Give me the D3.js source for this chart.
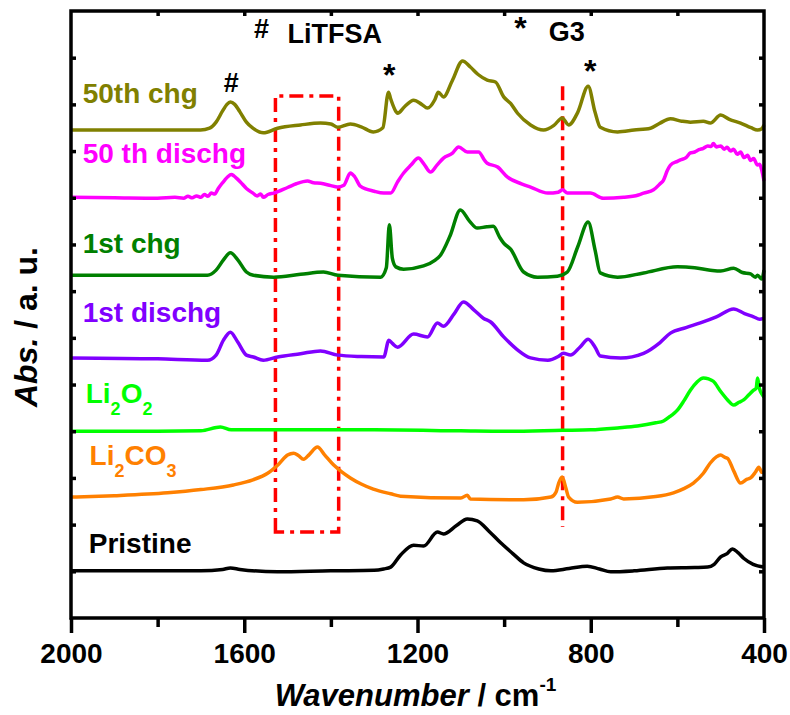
<!DOCTYPE html>
<meta charset="utf-8">
<style>
body { margin: 0; background: #fff; }
text { font-family: "Liberation Sans", Arial, sans-serif; font-weight: bold; }
</style>
<svg width="790" height="715"></svg>
<script src="https://cdn.jsdelivr.net/npm/d3@7/dist/d3.min.js"></script>
<script>

// ticks
var majorTicks = [2000, 1600, 1200, 800, 400];
var minorTicks = [1800, 1400, 1000, 600];
var topTicks = [1800, 1600, 1400, 1200, 1000, 800, 600];
var yTicks = [1, 2, 3, 4, 5, 6, 7, 8, 9, 10, 11, 12];

// spectra: [wavenumber, stacked abs]
var chg50 = [[2000,10.45],[1850,10.45],[1701,10.45],[1680,10.49],[1665,10.62],[1650,10.86],[1640,11.0],[1632,11.05],[1622,11.0],[1610,10.84],[1595,10.62],[1580,10.49],[1556,10.39],[1523,10.49],[1470,10.56],[1424,10.60],[1400,10.58],[1384,10.51],[1355,10.58],[1330,10.52],[1302,10.41],[1280,10.50],[1267,11.26],[1262,11.12],[1250,10.85],[1246,10.81],[1230,10.95],[1209,11.09],[1190,11.00],[1177,10.92],[1160,11.10],[1152,11.26],[1140,11.16],[1120,11.50],[1096,11.93],[1078,11.80],[1060,11.64],[1039,11.52],[1020,11.48],[1001,11.16],[985,11.02],[969,10.81],[939,10.56],[909,10.45],[885,10.55],[866,10.71],[851,10.56],[830,10.83],[806,11.39],[790,10.83],[778,10.51],[738,10.41],[700,10.45],[662,10.49],[640,10.60],[616,10.69],[590,10.64],[570,10.62],[540,10.64],[524,10.60],[500,10.77],[480,10.68],[454,10.60],[430,10.50],[415,10.45],[405,10.48],[400,10.56]];

var dischg50 = [[2000,9.01],[1900,9.00],[1800,8.99],[1760,9.01],[1740,8.99],[1730,9.03],[1720,9.00],[1710,9.04],[1700,9.01],[1692,9.07],[1684,9.03],[1676,9.10],[1668,9.08],[1660,9.20],[1652,9.30],[1645,9.38],[1638,9.45],[1630,9.50],[1624,9.47],[1618,9.42],[1609,9.34],[1595,9.20],[1580,9.10],[1570,9.04],[1562,9.08],[1556,9.01],[1545,9.07],[1532,9.10],[1500,9.22],[1480,9.30],[1454,9.36],[1440,9.32],[1424,9.31],[1400,9.26],[1385,9.23],[1370,9.27],[1355,9.53],[1345,9.45],[1332,9.25],[1300,9.14],[1278,9.10],[1262,9.10],[1246,9.34],[1232,9.53],[1215,9.70],[1198,9.85],[1185,9.72],[1170,9.55],[1155,9.70],[1140,9.85],[1120,9.95],[1105,10.09],[1085,9.98],[1059,9.98],[1045,9.80],[1039,9.74],[1015,9.66],[992,9.44],[960,9.30],[939,9.23],[899,9.10],[875,9.12],[865,9.17],[854,9.10],[801,9.10],[771,8.99],[724,9.01],[690,9.06],[678,9.10],[655,9.17],[640,9.30],[632,9.38],[623,9.59],[616,9.70],[600,9.78],[593,9.81],[580,9.86],[570,9.96],[560,9.98],[550,10.03],[540,10.06],[530,10.11],[522,10.10],[517,10.16],[510,10.09],[500,10.11],[492,10.04],[485,10.08],[477,10.00],[470,10.04],[462,9.93],[454,9.98],[446,9.86],[438,9.91],[431,9.80],[424,9.84],[415,9.70],[410,9.72],[405,9.58],[400,9.36]];

var chg1 = [[2000,7.34],[1685,7.34],[1665,7.45],[1648,7.67],[1632,7.82],[1615,7.67],[1595,7.41],[1579,7.34],[1532,7.30],[1470,7.36],[1417,7.41],[1384,7.34],[1285,7.30],[1272,7.50],[1265,8.42],[1258,7.70],[1250,7.52],[1232,7.47],[1186,7.54],[1160,7.66],[1147,7.77],[1125,8.18],[1101,8.74],[1080,8.50],[1062,8.35],[1040,8.38],[1025,8.39],[1010,8.15],[1001,8.03],[985,7.90],[955,7.41],[923,7.30],[877,7.32],[854,7.41],[830,7.95],[806,8.48],[790,7.88],[778,7.39],[738,7.30],[678,7.39],[600,7.52],[560,7.50],[524,7.45],[500,7.43],[470,7.49],[450,7.40],[431,7.37],[420,7.30],[415,7.34],[405,7.26],[400,7.45]];

var dischg1 = [[2000,5.57],[1800,5.55],[1685,5.52],[1665,5.63],[1648,5.95],[1632,6.12],[1615,5.91],[1595,5.63],[1579,5.59],[1556,5.52],[1523,5.59],[1470,5.66],[1424,5.72],[1384,5.63],[1330,5.60],[1278,5.59],[1266,5.95],[1258,5.88],[1246,5.80],[1209,6.08],[1177,6.02],[1154,6.32],[1140,6.25],[1115,6.52],[1094,6.77],[1070,6.60],[1048,6.42],[1031,6.34],[1001,6.02],[970,5.75],[939,5.57],[899,5.52],[875,5.60],[863,5.67],[847,5.63],[825,5.80],[806,5.97],[790,5.80],[778,5.61],[731,5.57],[678,5.67],[640,5.90],[616,6.10],[580,6.22],[547,6.32],[510,6.45],[470,6.62],[445,6.52],[424,6.45],[410,6.40],[400,6.42]];

var li2o2 = [[2000,4.00],[1800,4.00],[1700,4.01],[1655,4.09],[1630,4.03],[1500,4.03],[1300,4.03],[1100,4.01],[1000,4.00],[865,4.02],[800,4.03],[738,4.07],[692,4.11],[650,4.18],[632,4.22],[615,4.33],[600,4.45],[585,4.65],[570,4.88],[555,5.05],[540,5.14],[528,5.12],[517,5.07],[500,4.85],[484,4.67],[470,4.56],[458,4.62],[447,4.67],[435,4.78],[424,4.88],[418,4.92],[415,5.14],[410,4.90],[405,4.80],[400,4.73]];

var li2co3 = [[2000,2.59],[1900,2.62],[1777,2.68],[1700,2.75],[1625,2.85],[1580,2.96],[1546,3.10],[1520,3.30],[1500,3.49],[1486,3.53],[1475,3.48],[1463,3.40],[1450,3.50],[1431,3.66],[1415,3.50],[1394,3.28],[1375,3.13],[1355,3.00],[1330,2.87],[1302,2.76],[1262,2.66],[1239,2.61],[1100,2.57],[1085,2.63],[1078,2.55],[955,2.53],[892,2.59],[880,2.70],[874,2.89],[866,3.02],[858,2.80],[851,2.59],[831,2.48],[754,2.55],[738,2.59],[724,2.55],[650,2.60],[609,2.68],[585,2.77],[563,2.89],[540,3.10],[524,3.32],[510,3.45],[500,3.49],[490,3.44],[484,3.42],[470,3.15],[454,2.89],[440,2.97],[431,3.00],[420,3.12],[412,3.23],[405,3.12],[400,3.12]];

var pristine = [[2000,1.01],[1700,1.01],[1650,1.04],[1632,1.07],[1610,1.04],[1523,0.99],[1400,1.01],[1300,1.02],[1278,1.05],[1262,1.09],[1239,1.35],[1209,1.56],[1186,1.54],[1154,1.84],[1140,1.80],[1110,1.98],[1085,2.12],[1062,2.08],[1035,1.86],[1008,1.61],[980,1.38],[955,1.18],[920,1.05],[892,1.01],[850,1.06],[808,1.11],[780,1.05],[754,0.99],[700,1.01],[623,1.07],[560,1.08],[530,1.09],[515,1.15],[500,1.31],[485,1.38],[473,1.48],[460,1.40],[447,1.28],[425,1.15],[400,1.09]];

var seriesData = [chg50, dischg50, chg1, dischg1, li2o2, li2co3, pristine];
var seriesColors = ["#808000", "#ff00ff", "#008000", "#8000ff", "#00ff00", "#ff8000", "#000000"];

// labels, [text, subscript?]
var labelParts = [
  [["50th chg", 0]],
  [["50 th dischg", 0]],
  [["1st chg", 0]],
  [["1st dischg", 0]],
  [["Li", 0], ["2", 1], ["O", 0], ["2", 1]],
  [["Li", 0], ["2", 1], ["CO", 0], ["3", 1]],
  [["Pristine", 0]]
];
var labelAt = [[1973,11.03],[1973,9.74],[1973,7.82],[1973,6.34],[1966,4.60],[1957,3.28],[1959,1.39]];

// peak marks
var marks = ["#", "LiTFSA", "*", "G3", "#", "*", "*"];
var markAt = [[1560,12.42],[1500,12.31],[962,12.40],[897,12.36],[1630,11.26],[1265,11.40],[801,11.49]];

// dash-dot guides
var boxWn = [1528, 1382];
var boxAbs = [1.84, 11.18];
var g3Wn = 865;
var g3Abs = [1.95, 11.39];

var svg = d3.select("svg"),
    padL = 71, padR = 764, padT = 11, padB = 618;

var x = d3.scaleLinear().domain([2000, 400]).range([padL, padR]);
var y = d3.scaleLinear().domain([0, 13]).range([padB, padT]);

var line = d3.line()
    .x(function(d) { return x(d[0]); })
    .y(function(d) { return y(d[1]); })
    .curve(d3.curveMonotoneX);

// red guides
var redDash = "14,6,4,6";
svg.append("path")
    .attr("d", "M" + x(boxWn[0]) + "," + y(boxAbs[0]) + "V" + y(boxAbs[1]) + "H" + x(boxWn[1]) + "V" + y(boxAbs[0]) + "Z")
    .attr("fill", "none")
    .attr("stroke", "#ff0000")
    .attr("stroke-width", 3.5)
    .attr("stroke-dasharray", redDash);

svg.append("line")
    .attr("x1", x(g3Wn)).attr("x2", x(g3Wn))
    .attr("y1", y(g3Abs[1])).attr("y2", y(g3Abs[0]))
    .attr("stroke", "#ff0000")
    .attr("stroke-width", 3.5)
    .attr("stroke-dasharray", redDash);

// spectra
svg.append("g")
  .selectAll("path")
  .data(seriesData)
  .enter().append("path")
    .attr("d", line)
    .attr("fill", "none")
    .attr("stroke", function(d, i) { return seriesColors[i]; })
    .attr("stroke-width", 3.5)
    .attr("stroke-linejoin", "round");

// axes
var axisW = 3.5;
function styleAxis(g) {
  g.select(".domain").remove();
  g.selectAll(".tick line").attr("stroke", "#000").attr("stroke-width", axisW);
}

svg.append("g")
    .attr("transform", "translate(0," + padB + ")")
    .call(d3.axisBottom(x).tickValues(majorTicks).tickSize(15).tickPadding(10).tickFormat(d3.format("d")))
    .call(styleAxis)
    .selectAll("text")
      .attr("font-size", 28)
      .attr("font-family", "Liberation Sans, Arial, sans-serif")
      .attr("font-weight", "bold")
      .attr("fill", "#000");

svg.append("g")
    .attr("transform", "translate(0," + padB + ")")
    .call(d3.axisBottom(x).tickValues(minorTicks).tickSize(9).tickFormat(""))
    .call(styleAxis);

svg.append("g")
    .attr("transform", "translate(0," + padT + ")")
    .call(d3.axisTop(x).tickValues(topTicks).tickSize(-5).tickFormat(""))
    .call(styleAxis);

svg.append("g")
    .attr("transform", "translate(" + padL + ",0)")
    .call(d3.axisLeft(y).tickValues(yTicks).tickSize(-5).tickFormat(""))
    .call(styleAxis);

svg.append("g")
    .attr("transform", "translate(" + padR + ",0)")
    .call(d3.axisRight(y).tickValues(yTicks).tickSize(-5).tickFormat(""))
    .call(styleAxis);

svg.append("rect")
    .attr("x", padL).attr("y", padT)
    .attr("width", padR - padL).attr("height", padB - padT)
    .attr("fill", "none")
    .attr("stroke", "#000")
    .attr("stroke-width", axisW);

// series labels
var lab = svg.append("g").selectAll("text")
    .data(labelParts)
  .enter().append("text")
    .attr("x", function(d, i) { return x(labelAt[i][0]); })
    .attr("y", function(d, i) { return y(labelAt[i][1]); })
    .attr("font-size", 28)
    .attr("fill", function(d, i) { return seriesColors[i]; });

lab.each(function(parts) {
  var t = d3.select(this), prevSub = 0;
  parts.forEach(function(p) {
    t.append("tspan")
      .attr("font-size", p[1] ? 18 : 28)
      .attr("dy", p[1] ? (prevSub ? 0 : 12) : (prevSub ? -12 : 0))
      .text(p[0]);
    prevSub = p[1];
  });
});

// marks
svg.append("g").selectAll("text")
    .data(marks)
  .enter().append("text")
    .attr("x", function(d, i) { return x(markAt[i][0]); })
    .attr("y", function(d, i) { return y(markAt[i][1]); })
    .attr("text-anchor", function(d) { return d.length == 1 ? "middle" : "start"; })
    .attr("font-size", function(d) { return d == "*" ? 32 : 27; })
    .attr("fill", "#000")
    .text(function(d) { return d; });

// axis titles
var xt = svg.append("text")
    .attr("x", (padL + padR) / 2 - 2)
    .attr("y", 706)
    .attr("text-anchor", "middle")
    .attr("font-size", 31);
xt.append("tspan").attr("font-style", "italic").text("Wavenumber");
xt.append("tspan").text(" / cm");
xt.append("tspan").attr("font-size", 19).attr("dy", -15).text("-1");

var yt = svg.append("text")
    .attr("transform", "translate(37,327) rotate(-90)")
    .attr("text-anchor", "middle")
    .attr("font-size", 32);
yt.append("tspan").attr("font-style", "italic").text("Abs.");
yt.append("tspan").text(" / a. u.");

</script>
